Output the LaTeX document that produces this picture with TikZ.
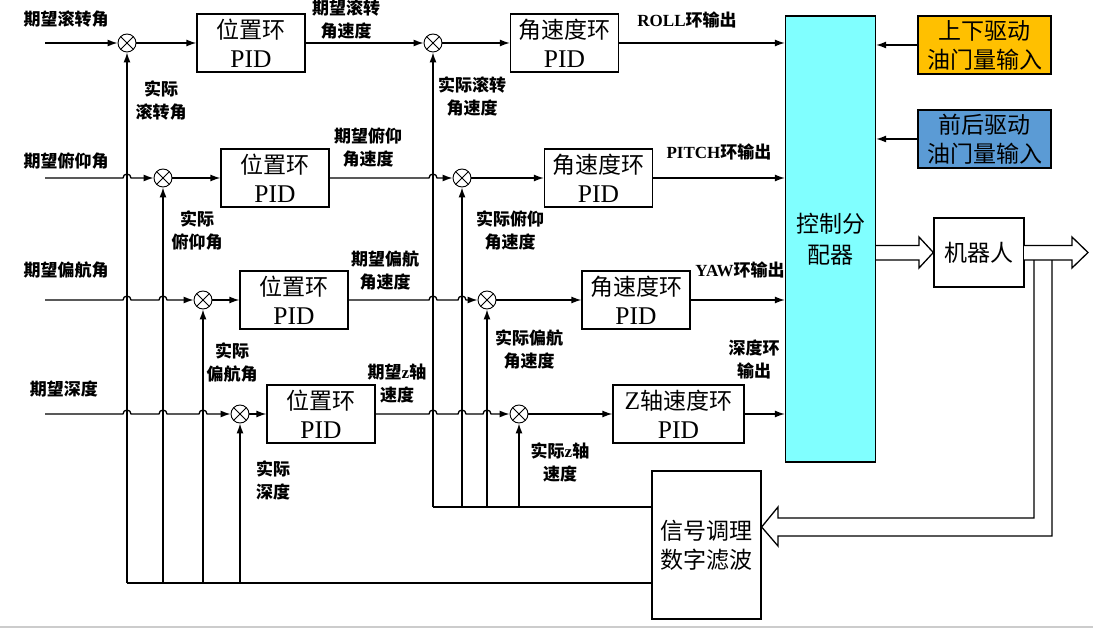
\documentclass[tikz,border=0pt]{standalone}
\usepackage{fontspec}
\setmainfont{Liberation Serif}
\newfontfamily\cjk{Noto Sans CJK SC}
\usetikzlibrary{arrows.meta}
\definecolor{ctrlcyan}{RGB}{128,255,255}
\definecolor{upgold}{RGB}{255,192,0}
\definecolor{fwdblue}{RGB}{91,155,213}
\newcommand{\pidtxt}{{\rmfamily\fontsize{25.5}{29}\selectfont PID}}
\tikzset{
  pidbox/.style={draw,minimum width=108pt,minimum height=58pt,align=center,inner sep=0pt,
    font=\cjk\fontsize{23}{29}\selectfont},
  sumnode/.style={circle,draw,line width=0.9pt,minimum size=18pt,inner sep=0pt,fill=white,
    path picture={\draw[line width=0.9pt]
      (path picture bounding box.north west)--(path picture bounding box.south east)
      (path picture bounding box.north east)--(path picture bounding box.south west);}},
  lbl/.style={align=center,inner sep=0pt,font=\cjk\bfseries\fontsize{17}{23}\selectfont},
  arr/.style={-{Latex[length=10pt,width=7pt]}},
}
\begin{document}
\begin{tikzpicture}[x=1pt,y=-1pt,line width=1.3pt]
\useasboundingbox (0,0) rectangle (1093,628);
% blocks
\node[draw,fill=ctrlcyan,minimum width=90pt,minimum height=446pt,align=center,
  font=\cjk\fontsize{23}{31}\selectfont] (ctrl) at (830.5,239) {控制分\\配器};
\node[draw,fill=upgold,minimum width=133pt,minimum height=58pt,align=center,
  font=\cjk\fontsize{23}{29}\selectfont] (up) at (984.5,45) {上下驱动\\油门量输入};
\node[draw,fill=fwdblue,minimum width=133pt,minimum height=58pt,align=center,
  font=\cjk\fontsize{23}{29}\selectfont] (fwd) at (984.5,139) {前后驱动\\油门量输入};
\node[draw,minimum width=90pt,minimum height=69pt,font=\cjk\fontsize{23}{29}\selectfont] (rob) at (979,252.5) {机器人};
\node[draw,minimum width=109pt,minimum height=148pt,align=center,
  font=\cjk\fontsize{23}{29}\selectfont] (sig) at (706.5,545) {信号调理\\数字滤波};

% junctions
\node[sumnode] (s11) at (127,43) {};
\node[sumnode] (s21) at (163,178) {};
\node[sumnode] (s31) at (203,300) {};
\node[sumnode] (s41) at (240,414) {};
\node[sumnode] (s12) at (433,43) {};
\node[sumnode] (s22) at (462,178) {};
\node[sumnode] (s32) at (487,300) {};
\node[sumnode] (s42) at (519,414) {};

% PID boxes
\node[pidbox] (pos1) at (251,43) {位置环\\\pidtxt};
\node[pidbox] (pos2) at (275,178) {位置环\\\pidtxt};
\node[pidbox] (pos3) at (294,300) {位置环\\\pidtxt};
\node[pidbox] (pos4) at (321,414) {位置环\\\pidtxt};
\node[pidbox] (rate1) at (564.5,43) {角速度环\\\pidtxt};
\node[pidbox] (rate2) at (598.5,178) {角速度环\\\pidtxt};
\node[pidbox] (rate3) at (636,300) {角速度环\\\pidtxt};
\node[pidbox,minimum width=131pt] (rate4) at (678.5,414) {{\rmfamily\fontsize{25.5}{29}\selectfont Z}轴速度环\\\pidtxt};

% inputs
\coordinate (in1) at (45,43);
\coordinate (in2) at (45,178);
\coordinate (in3) at (45,300);
\coordinate (in4) at (45,414);
\coordinate (busA) at (652,583);
\coordinate (busB) at (652,507);

% feedback buses
\draw (busA) -- (s11 |- busA);
\foreach \s in {s11,s21,s31,s41} \draw[arr] (\s |- busA) -- (\s);
\draw (busB) -- (s12 |- busB);
\foreach \s in {s12,s22,s32,s42} \draw[arr] (\s |- busB) -- (\s);

% forward paths
\draw[arr] (in1) -- (s11);
\draw[arr] (s11) -- (pos1);
\draw[arr] (pos1) -- (s12);
\draw[arr] (s12) -- (rate1);
\draw[arr] (rate1) -- (rate1 -| ctrl.west);

\draw[arr] (in2) -- (123,178) arc[start angle=180,end angle=360,radius=4] -- (s21);
\draw[arr] (s21) -- (pos2);
\draw[arr] (pos2) -- (429,178) arc[start angle=180,end angle=360,radius=4] -- (s22);
\draw[arr] (s22) -- (rate2);
\draw[arr] (rate2) -- (rate2 -| ctrl.west);

\draw[arr] (in3) -- (123,300) arc[start angle=180,end angle=360,radius=4]
  -- (159,300) arc[start angle=180,end angle=360,radius=4] -- (s31);
\draw[arr] (s31) -- (pos3);
\draw[arr] (pos3) -- (429,300) arc[start angle=180,end angle=360,radius=4]
  -- (458,300) arc[start angle=180,end angle=360,radius=4] -- (s32);
\draw[arr] (s32) -- (rate3);
\draw[arr] (rate3) -- (rate3 -| ctrl.west);

\draw[arr] (in4) -- (123,414) arc[start angle=180,end angle=360,radius=4]
  -- (159,414) arc[start angle=180,end angle=360,radius=4]
  -- (199,414) arc[start angle=180,end angle=360,radius=4] -- (s41);
\draw[arr] (s41) -- (pos4);
\draw[arr] (pos4) -- (429,414) arc[start angle=180,end angle=360,radius=4]
  -- (458,414) arc[start angle=180,end angle=360,radius=4]
  -- (483,414) arc[start angle=180,end angle=360,radius=4] -- (s42);
\draw[arr] (s42) -- (rate4);
\draw[arr] (rate4) -- (rate4 -| ctrl.west);

% throttle inputs
\draw[arr] (up.west) -- (up.west -| ctrl.east);
\draw[arr] (fwd.west) -- (fwd.west -| ctrl.east);

% hollow arrows
\draw[fill=white] (1034,260) -- (1034,518) -- (778,518) -- (778,507) -- (sig.east |- 0,527)
  -- (778,546) -- (778,536) -- (1052,536) -- (1052,260);
\draw[fill=white] (876,245.5) -- (919,245.5) -- (919,237) -- (rob.west) -- (919,268) -- (919,260) -- (876,260);
\draw[fill=white] (1024,245.5) -- (1072,245.5) -- (1072,237) -- (1088,252.5) -- (1072,268) -- (1072,260) -- (1024,260);

% labels
\node[lbl] (t1) at (66,19) {期望滚转角};
\node[lbl] (t2) at (66,161) {期望俯仰角};
\node[lbl] (t3) at (66,270) {期望偏航角};
\node[lbl] (t4) at (64,389) {期望深度};
\node[lbl] (w1) at (346,20) {期望滚转\\角速度};
\node[lbl] (w2) at (368,148) {期望俯仰\\角速度};
\node[lbl] (w3) at (385,271) {期望偏航\\角速度};
\node[lbl] (w4) at (397,384) {期望{\rmfamily z}轴\\速度};
\node[lbl] (o1) at (687,20) {{\rmfamily ROLL}环输出};
\node[lbl] (o2) at (719,152) {{\rmfamily PITCH}环输出};
\node[lbl] (o3) at (740,270) {{\rmfamily YAW}环输出};
\node[lbl] (o4) at (754,359) {深度环\\输出};
\node[lbl] (f1) at (161,100) {实际\\滚转角};
\node[lbl] (f2) at (197,230) {实际\\俯仰角};
\node[lbl] (f3) at (232,362) {实际\\偏航角};
\node[lbl] (f4) at (273,480) {实际\\深度};
\node[lbl] (g1) at (472,96) {实际滚转\\角速度};
\node[lbl] (g2) at (510,230) {实际俯仰\\角速度};
\node[lbl] (g3) at (529,349) {实际偏航\\角速度};
\node[lbl] (g4) at (560,462) {实际{\rmfamily z}轴\\速度};

\draw[gray!40] (0,627) -- (1093,627);
\end{tikzpicture}
\end{document}
